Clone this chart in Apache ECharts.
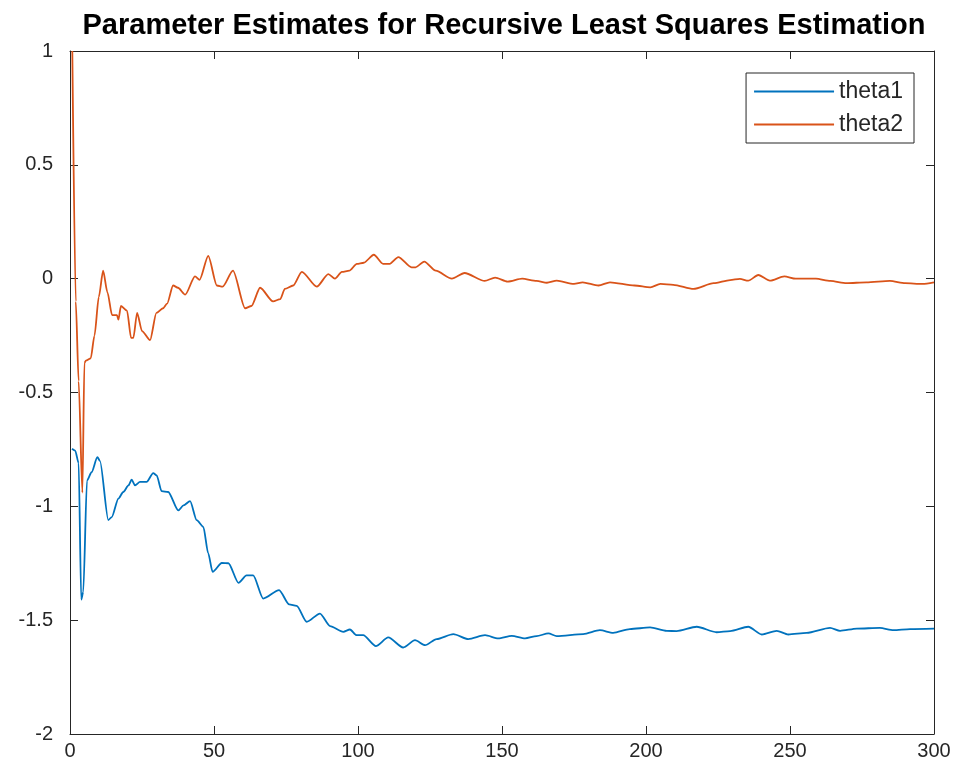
<!DOCTYPE html>
<html>
<head>
<meta charset="utf-8">
<title>Parameter Estimates</title>
<script src="https://cdn.jsdelivr.net/npm/echarts@6/dist/echarts.min.js"></script>
<style>
  html, body { margin: 0; padding: 0; background: #ffffff; }
  #chart { width: 962px; height: 777px; }
</style>
</head>
<body>
<div id="chart"></div>
<script>
// Estimated parameters [sample, value]
const theta1 = [
  [0.7,-0.747],[1.8,-0.755],[3,-0.81],[3.9,-1.41],[4.6,-1.376],[5.9,-0.886],[7.5,-0.85],
  [9.5,-0.784],[10.4,-0.80],[13.3,-1.06],[14.5,-1.047],[16.8,-0.966],[18.5,-0.937],
  [20.3,-0.908],[21.4,-0.883],[22.6,-0.908],[24.3,-0.893],[26.6,-0.893],[28.9,-0.854],
  [30.1,-0.864],[31.8,-0.933],[34.1,-0.937],[37.6,-1.018],[39.4,-0.996],[41.7,-0.977],
  [44,-1.061],[46.3,-1.09],[48,-1.207],[49.5,-1.288],[52.7,-1.249],[55,-1.25],
  [58.5,-1.336],[61.3,-1.303],[63.6,-1.303],[67.1,-1.405],[72.6,-1.368],[76.1,-1.431],
  [78.7,-1.437],[82.2,-1.507],[86.8,-1.471],[90.3,-1.526],[94.9,-1.551],[97.2,-1.541],
  [99.5,-1.566],[101.8,-1.566],[106.2,-1.614],[110.5,-1.576],[115.7,-1.62],[119.8,-1.588],
  [123.3,-1.61],[127.3,-1.583],[133.1,-1.561],[138.3,-1.583],[144.1,-1.566],[148.7,-1.58],
  [153.4,-1.569],[158,-1.58],[162,-1.57],[166.1,-1.558],[169,-1.57],[178.2,-1.561],
  [184,-1.544],[188.6,-1.556],[194.4,-1.539],[201.4,-1.532],[207.2,-1.547],[210.6,-1.548],
  [217.6,-1.529],[224.5,-1.553],[229.2,-1.548],[235.5,-1.529],[240.2,-1.563],[245.4,-1.547],
  [249.4,-1.563],[255.8,-1.556],[263.9,-1.534],[267.4,-1.547],[273.2,-1.537],[281.2,-1.534],
  [285.9,-1.544],[291.7,-1.539],[300,-1.537]
];

const theta2 = [
  [0.8,1.0],[2,-0.1],[3,-0.45],[4.3,-0.94],[5.0,-0.37],[5.5,-0.36],[7.2,-0.35],[8.5,-0.25],
  [10,-0.08],[11.5,0.035],[13,-0.06],[14.6,-0.16],[16.3,-0.16],[16.8,-0.18],[17.7,-0.12],
  [19.8,-0.14],[21.2,-0.26],[22,-0.26],[23.3,-0.15],[25,-0.23],[27.8,-0.27],[30,-0.15],
  [32.3,-0.13],[33.7,-0.11],[35.8,-0.03],[37.5,-0.04],[40,-0.07],[43.4,0.01],[45,-0.005],
  [48,0.1],[51,-0.03],[53,-0.035],[56.6,0.035],[60.8,-0.13],[63,-0.12],[66,-0.04],
  [70.5,-0.1],[73,-0.09],[74.6,-0.045],[77.5,-0.03],[80.5,0.03],[85.7,-0.035],[89.7,0.02],
  [92,0],[94.4,0.03],[97,0.035],[99.6,0.065],[102,0.07],[105.5,0.105],[108.7,0.065],
  [111,0.065],[114,0.095],[118.6,0.05],[120,0.05],[123,0.075],[127,0.035],[132.6,0],
  [137,0.025],[144,-0.01],[147.6,0.005],[152,-0.013],[157,0],[162,-0.01],[165.6,-0.018],
  [169,-0.009],[175,-0.023],[178,-0.016],[183.5,-0.03],[187.5,-0.016],[196,-0.03],
  [201.5,-0.038],[205,-0.023],[209.5,-0.027],[216.5,-0.045],[223.5,-0.02],[229.2,-0.006],
  [232.6,-0.001],[235.5,-0.009],[239,0.016],[243,-0.009],[248,0.01],[252,0],[259,0],
  [264,-0.01],[269.6,-0.02],[276.5,-0.016],[284.7,-0.01],[290,-0.02],[296,-0.023],[300,-0.016]
];

const seriesNames = ['theta1', 'theta2'];
const xTicks = { min: 0, max: 300, step: 50 };
const yTicks = { min: -2, max: 1, step: 0.5 };
const titleText = 'Parameter Estimates for Recursive Least Squares Estimation';

const axisColor = '#262626';
const fontFamily = 'Liberation Sans, Arial, Helvetica, sans-serif';

const chart = echarts.init(document.getElementById('chart'), null, { renderer: 'canvas' });

// Axis with a full box look: ticks drawn inward on every side
function boxAxis(extra) {
  return Object.assign({
    type: 'value',
    axisLine: { show: true, onZero: false, lineStyle: { color: axisColor, width: 1 } },
    axisTick: { show: true, inside: true, length: 8, lineStyle: { color: axisColor, width: 1 } },
    splitLine: { show: false }
  }, extra);
}

const yLabelFmt = v => (Math.abs(v) < 1e-9 ? '0' : String(v));

chart.setOption({
  animation: false,
  backgroundColor: '#ffffff',
  color: ['#0072BD', '#D95319'],
  title: {
    text: titleText,
    left: 499,
    textAlign: 'center',
    top: 6,
    textStyle: { fontFamily: fontFamily, fontWeight: 'bold', fontSize: 29, color: '#000000' }
  },
  legend: {
    data: seriesNames,
    orient: 'vertical',
    right: 48,
    top: 73,
    backgroundColor: '#ffffff',
    borderColor: axisColor,
    borderWidth: 1,
    borderRadius: 0,
    padding: [7, 11, 7, 8],
    itemGap: 10,
    itemWidth: 80,
    itemHeight: 2,
    icon: 'rect',
    textStyle: { fontFamily: fontFamily, fontSize: 23, color: axisColor }
  },
  grid: { left: 70, right: 28, top: 51, bottom: 43, containLabel: false },
  xAxis: [
    boxAxis({
      position: 'bottom', min: xTicks.min, max: xTicks.max, interval: xTicks.step,
      axisLabel: { color: axisColor, fontFamily: fontFamily, fontSize: 20, margin: 7 }
    }),
    boxAxis({
      position: 'top', min: xTicks.min, max: xTicks.max, interval: xTicks.step,
      axisLabel: { show: false }
    })
  ],
  yAxis: [
    boxAxis({
      position: 'left', min: yTicks.min, max: yTicks.max, interval: yTicks.step,
      axisLabel: { color: axisColor, fontFamily: fontFamily, fontSize: 20, margin: 17, formatter: yLabelFmt }
    }),
    boxAxis({
      position: 'right', min: yTicks.min, max: yTicks.max, interval: yTicks.step,
      axisLabel: { show: false }
    })
  ],
  series: [
    {
      name: seriesNames[0], type: 'line', data: theta1,
      xAxisIndex: 0, yAxisIndex: 0,
      showSymbol: false, smooth: 0.25, smoothMonotone: 'x',
      lineStyle: { width: 1.8, color: '#0072BD' }
    },
    {
      name: seriesNames[1], type: 'line', data: theta2,
      xAxisIndex: 0, yAxisIndex: 0,
      showSymbol: false, smooth: 0.25, smoothMonotone: 'x',
      lineStyle: { width: 1.8, color: '#D95319' }
    }
  ]
});
</script>
</body>
</html>
